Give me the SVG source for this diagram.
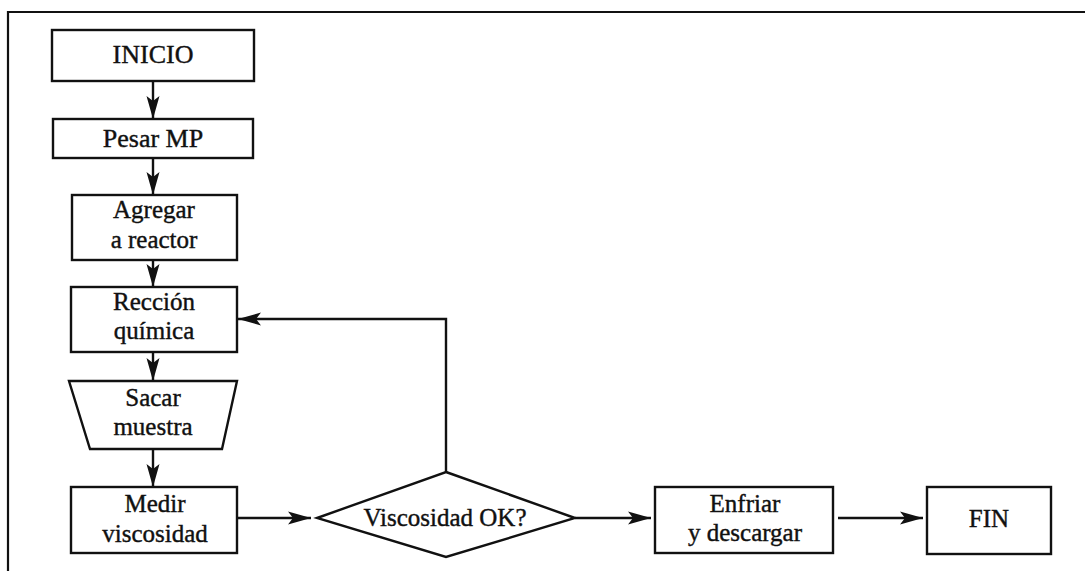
<svg xmlns="http://www.w3.org/2000/svg" width="1085" height="571" viewBox="0 0 1085 571">
  <defs>
    <style>
      .box { fill: #ffffff; stroke: #111111; stroke-width: 2.4; }
      .lbl { font-family: "Liberation Serif", "Times New Roman", serif; font-size: 25px; fill: #111111; stroke: #111111; stroke-width: 0.4; text-anchor: middle; }
      .big { font-size: 26px; }
      .wire { fill: none; stroke: #111111; stroke-width: 2.4; }
      .frame { fill: none; stroke: #111111; stroke-width: 2.2; }
    </style>
    <marker id="arrow" markerUnits="userSpaceOnUse" viewBox="-24 -8 25 16" refX="0" refY="0" markerWidth="25" markerHeight="16" orient="auto">
      <path d="M0,0 L-23,-6.5 L-18,0 L-23,6.5 z" fill="#111111"/>
    </marker>
  </defs>

  <rect width="1085" height="571" fill="#ffffff"/>

  <!-- page frame: top and left edges -->
  <path class="frame" d="M8,571 L8,12 L1085,12"/>

  <!-- connectors -->
  <g id="connectors">
    <line class="wire" x1="153" y1="81" x2="153" y2="119" marker-end="url(#arrow)"/>
    <line class="wire" x1="153" y1="158" x2="153" y2="195" marker-end="url(#arrow)"/>
    <line class="wire" x1="153" y1="260" x2="153" y2="287" marker-end="url(#arrow)"/>
    <line class="wire" x1="153" y1="352" x2="153" y2="381" marker-end="url(#arrow)"/>
    <line class="wire" x1="153" y1="449" x2="153" y2="487" marker-end="url(#arrow)"/>
    <line class="wire" x1="237" y1="518" x2="311" y2="518" marker-end="url(#arrow)"/>
    <line class="wire" x1="575" y1="518" x2="651" y2="518" marker-end="url(#arrow)"/>
    <line class="wire" x1="838" y1="518" x2="923" y2="518" marker-end="url(#arrow)"/>
    <polyline class="wire" points="446,472 446,319 238,319" marker-end="url(#arrow)"/>
  </g>

  <!-- nodes -->
  <g id="inicio">
    <rect class="box" x="52" y="30" width="202" height="51"/>
    <text class="lbl big" x="153" y="63">INICIO</text>
  </g>
  <g id="pesar-mp">
    <rect class="box" x="53" y="119" width="200" height="39"/>
    <text class="lbl big" x="153" y="147">Pesar MP</text>
  </g>
  <g id="agregar">
    <rect class="box" x="72" y="195" width="165" height="65"/>
    <text class="lbl" x="154" y="218">Agregar</text>
    <text class="lbl" x="154" y="248">a reactor</text>
  </g>
  <g id="reaccion">
    <rect class="box" x="71" y="287" width="166" height="65"/>
    <text class="lbl" x="154" y="310">Rección</text>
    <text class="lbl" x="154" y="339">química</text>
  </g>
  <g id="sacar-muestra">
    <polygon class="box" points="69,381 237,381 222,449 90,449"/>
    <text class="lbl" x="153" y="406">Sacar</text>
    <text class="lbl" x="153" y="435">muestra</text>
  </g>
  <g id="medir">
    <rect class="box" x="71" y="487" width="166" height="66"/>
    <text class="lbl" x="155" y="512">Medir</text>
    <text class="lbl" x="155" y="542">viscosidad</text>
  </g>
  <g id="decision">
    <polygon class="box" points="446,472 575,518 446,557 317,518"/>
    <text class="lbl" x="445" y="526">Viscosidad OK?</text>
  </g>
  <g id="enfriar">
    <rect class="box" x="655" y="487" width="178" height="66"/>
    <text class="lbl" x="745" y="512">Enfriar</text>
    <text class="lbl" x="745" y="541">y descargar</text>
  </g>
  <g id="fin">
    <rect class="box" x="927" y="487" width="124" height="67"/>
    <text class="lbl" x="989" y="527">FIN</text>
  </g>
</svg>
